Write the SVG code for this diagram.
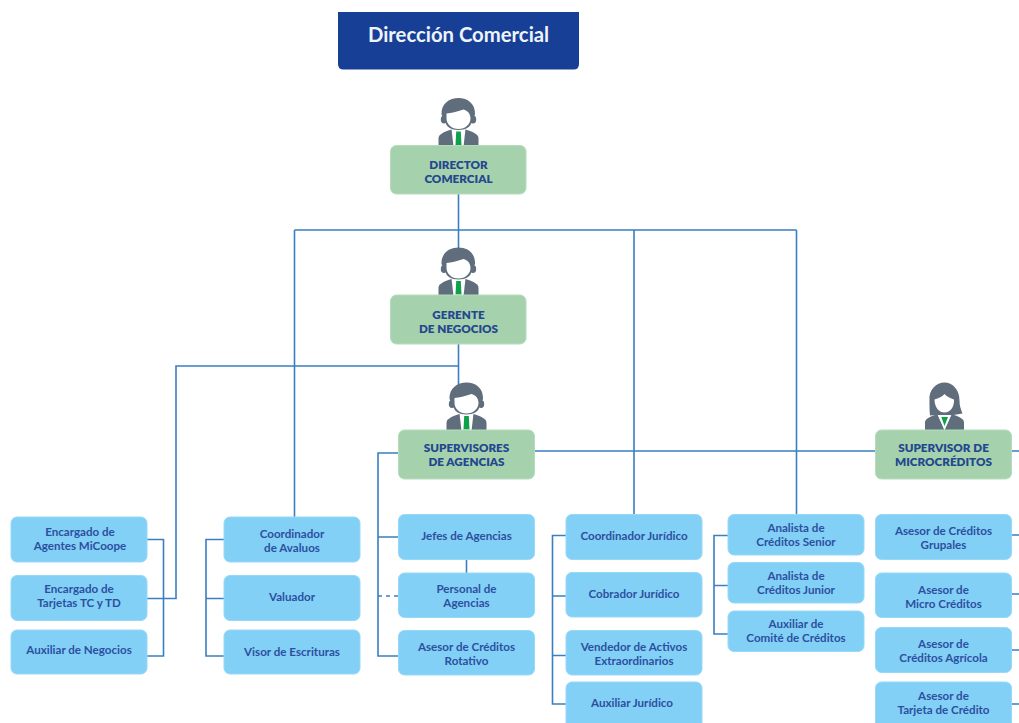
<svg xmlns="http://www.w3.org/2000/svg" width="1019" height="723" viewBox="0 0 1019 723">
<style>
.l{fill:none;stroke:#397fc2;stroke-width:1.6}
.g{fill:#a5d2ad;stroke:#b5dcbd;stroke-width:1}
.b{fill:#82d0f6;stroke:#96d9f8;stroke-width:1}
text{font-family:Lato,"Open Sans","Liberation Sans",sans-serif;font-weight:700;text-anchor:middle;font-size:11.600px;fill:#2d4f9f}
.gt{fill:#24478f;font-weight:800;font-size:11.700px}
.t{fill:#eef4fb;font-size:20.300px;font-weight:700}
</style>
<defs>
<g id="man">
<path d="M-20 0V-8C-20-12-16-14-7-17H7C16-14 20-12 20-8V0Z" fill="#5f6d7c"/>
<path d="M-7-17.500H7L5 0H-5Z" fill="#fff"/>
<path d="M-2.300-15H2.300L3-1.500H-3Z" fill="#0da24a"/>
<ellipse cx="-14.500" cy="-27" rx="3.200" ry="4" fill="#5f6d7c"/><ellipse cx="14.500" cy="-27" rx="3.200" ry="4" fill="#5f6d7c"/>
<path d="M-13-25L-17-32C-17.500-43-9-48.500 0-48.500S17-43 16.500-32L13-25C13-20 7-16.500 0-16.500S-13-20-13-25Z" fill="#5f6d7c"/>
<path d="M-12-33C-7-33.500-2-34.500 5-37C9-36 12-33 12-28C12-22.500 7-17.500 0-17.500S-12-22.500-12-28Z" fill="#fff"/>
</g>
<g id="woman">
<path d="M-19.500 0V-8C-19.500-12-14-14-7-16.500L0 0 7-16.500C14-14 19.500-12 19.500-8V0Z" fill="#5f6d7c"/>
<path d="M-7.500-17L0-1 7.500-17 3-19H-3Z" fill="#fff"/>
<path d="M-3.200-13.500H3.500L0-4.500Z" fill="#0da24a"/>
<path d="M-14.500-15C-15-20-15-24-15-30C-16-41-8-48 0-48S15-41 15-30C15-25 16-22 18-17L9-15.500H-9Z" fill="#5f6d7c"/>
<path d="M-10-31C-6-32-2-34 0-36.500C2-34 6-32 9.500-31C10-24 6-18 0-18S-10-24-10-31Z" fill="#fff"/>
</g>
</defs>

<g id="connectors">
<path class="l" d="M458.500 194V249M294.500 230H796.500M294.500 230V517M634 230V514.500M796.500 230V514.500"/>
<path class="l" d="M458.500 344V385M458.500 366H176V598.500H147"/>
<path class="l" d="M147 539.500H163.500V656H147"/>
<path class="l" d="M224 539.500H206V656H224M206 598.500H224"/>
<path class="l" d="M398.500 453H378V656H398.500M378 537H398.500M466.500 559.500V573"/>
<path class="l" d="M378 596H398.500" stroke-dasharray="4 4"/>
<path class="l" d="M535 451H875.500M1011.500 451H1019"/>
<path class="l" d="M566 535.500H552.500V704H566M552.500 596H566M552.500 655.500H566"/>
<path class="l" d="M728 535.500H714V634H728M714 585.500H728"/>
<path class="l" d="M1011.500 535H1019M1011.500 594H1019M1011.500 650H1019M1011.500 704H1019"/>
</g>

<g id="titulo">
<path d="M338 12H579V64Q579 69.500 573.500 69.500H343.500Q338 69.500 338 64Z" fill="#173f95"/>
<text class="t" x="458.500" y="42">Dirección Comercial</text>
</g>

<g id="director">
<use href="#man" x="458.500" y="146.500"/>
<rect class="g" x="390.500" y="145.500" width="135.500" height="48.500" rx="6"/>
<text class="gt" x="458.500" y="169">DIRECTOR</text><text class="gt" x="458.500" y="183">COMERCIAL</text>
</g>
<g id="gerente">
<use href="#man" x="458.500" y="296"/>
<rect class="g" x="390.500" y="295" width="135.500" height="49" rx="6"/>
<text class="gt" x="458.500" y="319">GERENTE</text><text class="gt" x="458.500" y="333">DE NEGOCIOS</text>
</g>
<g id="supervisores">
<use href="#man" x="466.500" y="431"/>
<rect class="g" x="398.500" y="430" width="136" height="49" rx="6"/>
<text class="gt" x="466.500" y="452">SUPERVISORES</text><text class="gt" x="466.500" y="466">DE AGENCIAS</text>
</g>
<g id="supervisor-micro">
<use href="#woman" x="944.500" y="430.500"/>
<rect class="g" x="875.500" y="430" width="136" height="49" rx="6"/>
<text class="gt" x="943.500" y="452">SUPERVISOR DE</text><text class="gt" x="943.500" y="466">MICROCRÉDITOS</text>
</g>

<g id="encargado-agentes"><rect class="b" x="11" y="517" width="136" height="45" rx="6"/><text x="80" y="536">Encargado de</text><text x="80" y="550">Agentes MiCoope</text></g>
<g id="encargado-tarjetas"><rect class="b" x="11" y="575.500" width="136" height="45" rx="6"/><text x="79" y="593">Encargado de</text><text x="79" y="607">Tarjetas TC y TD</text></g>
<g id="auxiliar-negocios"><rect class="b" x="11" y="630" width="136" height="44" rx="6"/><text x="79" y="654">Auxiliar de Negocios</text></g>

<g id="coordinador-avaluos"><rect class="b" x="224" y="517" width="136" height="45" rx="6"/><text x="292" y="538">Coordinador</text><text x="292" y="552">de Avaluos</text></g>
<g id="valuador"><rect class="b" x="224" y="575.500" width="136" height="45" rx="6"/><text x="292" y="601">Valuador</text></g>
<g id="visor-escrituras"><rect class="b" x="224" y="630" width="136" height="44" rx="6"/><text x="292" y="656">Visor de Escrituras</text></g>

<g id="jefes-agencias"><rect class="b" x="398.500" y="514.500" width="136" height="45" rx="6"/><text x="466.500" y="540">Jefes de Agencias</text></g>
<g id="personal-agencias"><rect class="b" x="398.500" y="573" width="136" height="44.500" rx="6"/><text x="466.500" y="593">Personal de</text><text x="466.500" y="607">Agencias</text></g>
<g id="asesor-rotativo"><rect class="b" x="398.500" y="630.500" width="136" height="44.500" rx="6"/><text x="466.500" y="651">Asesor de Créditos</text><text x="466.500" y="665">Rotativo</text></g>

<g id="coordinador-juridico"><rect class="b" x="566" y="514.500" width="136" height="45" rx="6"/><text x="634" y="540">Coordinador Jurídico</text></g>
<g id="cobrador-juridico"><rect class="b" x="566" y="572.500" width="136" height="44.500" rx="6"/><text x="634" y="598">Cobrador Jurídico</text></g>
<g id="vendedor-activos"><rect class="b" x="566" y="630.500" width="136" height="44.500" rx="6"/><text x="634" y="651">Vendedor de Activos</text><text x="634" y="665">Extraordinarios</text></g>
<g id="auxiliar-juridico"><rect class="b" x="566" y="682" width="136" height="50" rx="6"/><text x="632" y="707">Auxiliar Jurídico</text></g>

<g id="analista-senior"><rect class="b" x="728" y="514.500" width="136" height="40.500" rx="6"/><text x="796" y="532">Analista de</text><text x="796" y="546">Créditos Senior</text></g>
<g id="analista-junior"><rect class="b" x="728" y="562.500" width="136" height="40.500" rx="6"/><text x="796" y="580">Analista de</text><text x="796" y="594">Créditos Junior</text></g>
<g id="auxiliar-comite"><rect class="b" x="728" y="611" width="136" height="40.500" rx="6"/><text x="796" y="628">Auxiliar de</text><text x="796" y="642">Comité de Créditos</text></g>

<g id="asesor-grupales"><rect class="b" x="875.500" y="514.500" width="136" height="45" rx="6"/><text x="943.500" y="535">Asesor de Créditos</text><text x="943.500" y="549">Grupales</text></g>
<g id="asesor-micro"><rect class="b" x="875.500" y="573" width="136" height="44.500" rx="6"/><text x="943.500" y="594">Asesor de</text><text x="943.500" y="608">Micro Créditos</text></g>
<g id="asesor-agricola"><rect class="b" x="875.500" y="627.500" width="136" height="45" rx="6"/><text x="943.500" y="648">Asesor de</text><text x="943.500" y="662">Créditos Agrícola</text></g>
<g id="asesor-tarjeta"><rect class="b" x="875.500" y="682" width="136" height="50" rx="6"/><text x="943.500" y="700">Asesor de</text><text x="943.500" y="714">Tarjeta de Crédito</text></g>
</svg>
